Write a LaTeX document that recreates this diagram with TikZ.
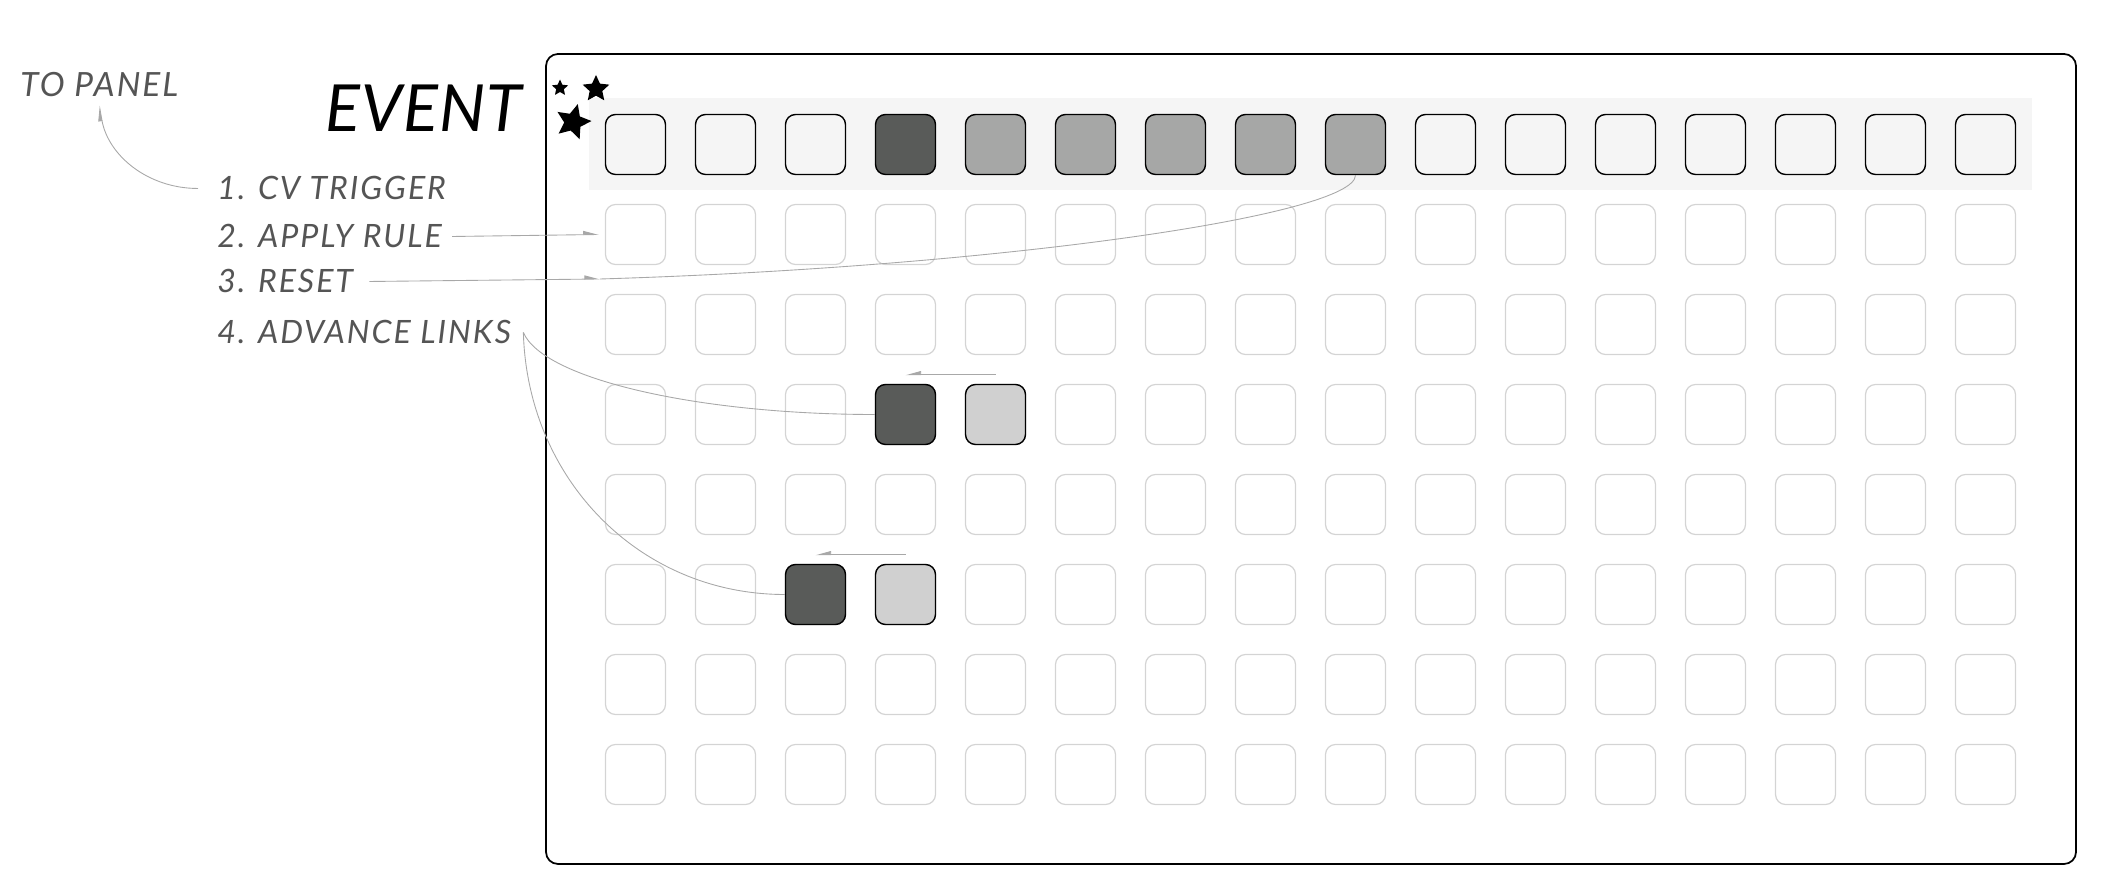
\documentclass[tikz,border=0pt]{standalone}
\usepackage{fontspec}
\setmainfont{Lato}[LetterSpace=6]
\usepackage{tikz}
\usetikzlibrary{arrows.meta,shapes.geometric}

\definecolor{band}{HTML}{F5F5F5}
\definecolor{dark}{HTML}{595B59}
\definecolor{mid}{HTML}{A6A7A6}
\definecolor{pale}{HTML}{D0D0D0}
\definecolor{rim}{HTML}{D4D4D4}
\definecolor{wiregray}{HTML}{A8A8A8}
\definecolor{ink}{HTML}{555555}

\tikzset{
  pad/.style={draw=rim, line width=0.7pt, rounded corners=0.2cm,
    minimum size=1.2cm, inner sep=0pt},
  cell/.style={pad, draw=black, line width=0.8pt, fill=#1},
  link/.style={draw=wiregray, line width=0.5pt},
  harp/.style={-{Triangle[harpoon, length=0.28cm, width=0.15cm]}},
  harpback/.style={-{Triangle[harpoon, swap, length=0.28cm, width=0.15cm]}},
  lbl/.style={text=ink, font=\fontsize{18.3}{22}\selectfont\itshape,
    inner sep=0pt, anchor=base west},
  starry/.style={star, star points=5, star point ratio=2.1, fill=black,
    inner sep=0pt}
}

\begin{document}
\begin{tikzpicture}[x=0.02cm, y=0.02cm]

      \useasboundingbox (0, 0) rectangle (2104, -884);

      \fill[band] (589, -98) rectangle (2032, -190);
      \draw[line width=1pt, rounded corners=0.24cm] (546, -54) rectangle (2076, -864);

      \foreach \r in {1,...,7}
        \foreach \c in {0,...,15}
          \node[pad] (g\r-\c) at ({635.5+90*\c}, {-144.5-90*\r}) {};

      \foreach \f [count=\c from 0] in {band,band,band,dark,mid,mid,mid,mid,mid,band,band,band,band,band,band,band}
        \node[cell=\f] (t\c) at ({635.5+90*\c}, -144.5) {};

      \node[cell=dark] (h1) at (905.5, -414.5) {};
      \node[cell=pale] (l1) at (995.5, -414.5) {};
      \node[cell=dark] (h2) at (815.5, -594.5) {};
      \node[cell=pale] (l2) at (905.5, -594.5) {};

      \node[starry, minimum size=0.34cm] (s1) at (560, -88) {};
      \node[starry, minimum size=0.56cm] (s2) at (596, -89) {};
      \node[starry, minimum size=0.74cm, shape border rotate=-15] (s3) at (573, -122) {};

      \node[font=\fontsize{37}{40}\selectfont\itshape\addfontfeatures{LetterSpace=1.5},
        inner sep=0pt, anchor=base east] (event) at (522, -132) {EVENT};
      \node[lbl, font=\fontsize{19}{22}\selectfont\itshape] (panel) at (20, -97) {TO PANEL};
      \node[lbl] (cv)    at (217, -200) {1. CV TRIGGER};
      \node[lbl] (rule)  at (217, -248) {2. APPLY RULE};
      \node[lbl] (reset) at (217, -293) {3. RESET};
      \node[lbl] (links) at (217, -344) {4. ADVANCE LINKS};

      \draw[link, harp] ([xshift=-0.38cm]cv.west) to[out=180, in=-80] ([yshift=-0.16cm]panel.south);
      \draw[link, harp] ([xshift=0.2cm]rule.east) -- ([xshift=-0.12cm]g1-0.west);

      \coordinate (rst) at (600, -279);
      \draw[link, harp] ([xshift=0.32cm]reset.east) -- (rst);
      \draw[link] (rst) .. controls +(400, 12) and +(0, -40) .. (t8.south);

      \draw[link] ([xshift=0.24cm]links.east) .. controls +(20, -47) and +(-175, 0) .. (h1.west);
      \draw[link] ([xshift=0.24cm]links.east) .. controls +(4, -147) and +(-145, 0) .. (h2.west);

      \draw[link, harpback] ([yshift=0.18cm]l1.north) -- ([yshift=0.18cm]h1.north);
      \draw[link, harpback] ([yshift=0.18cm]l2.north) -- ([yshift=0.18cm]h2.north);
    \end{tikzpicture}
\end{document}
